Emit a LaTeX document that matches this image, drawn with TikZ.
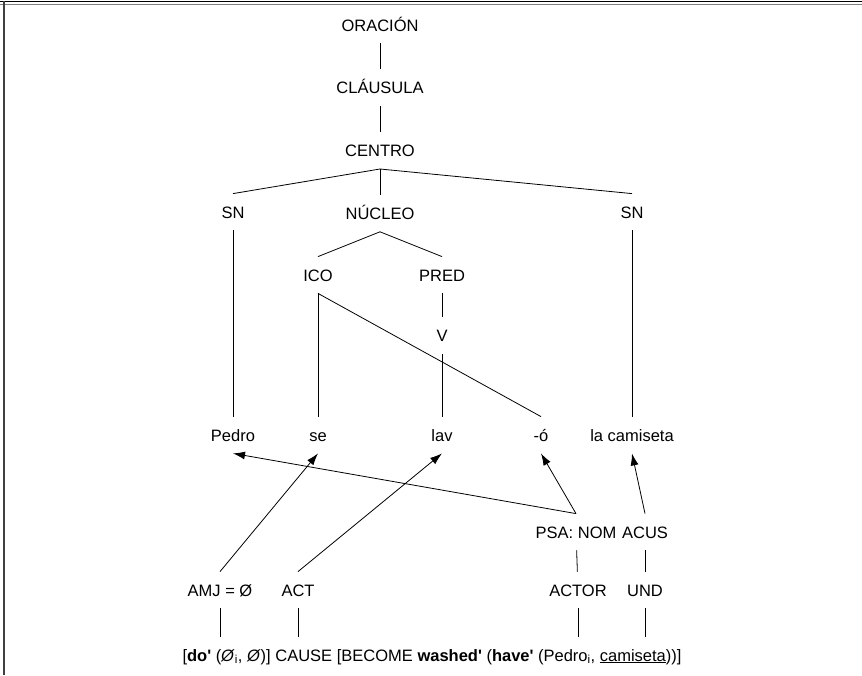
\documentclass[tikz,border=0pt]{standalone}
\usepackage{fontspec}
\setmainfont{Liberation Sans}
\usetikzlibrary{positioning,arrows.meta}

\newcommand{\pr}{\textquotesingle}

\begin{document}
\begin{tikzpicture}[x=1pt,y=-1pt,line width=0.8pt,
    every node/.style={inner xsep=2pt,inner ysep=12pt,text height=12pt,text depth=0pt,
      font=\fontsize{16.5}{18}\selectfont},
    link/.style={-{Latex[length=12pt,width=8pt]}},
    node distance=26pt
    ]
    \useasboundingbox (0,0) rectangle (862,675);

    % frame
    \draw[line width=1.2pt] (0,1.2) -- (862,1.2);
    \draw[gray,line width=0.8pt] (0,4) -- (862,4);
    \draw[line width=1.4pt,black!75] (4,1) -- (4,675);

    % the tree
    \node (or) at (380,25) {ORACIÓN};
    \node (cl) [below=of or] {CLÁUSULA};
    \node (ce) [below=of cl] {CENTRO};
    \node (nu) [below=of ce] {NÚCLEO};
    \node (sn1) at (233,212) {SN};
    \node (sn2) at (632,212) {SN};
    \node (ico) at (318,275) {ICO};
    \node (pred) at (442,275) {PRED};
    \node (v) [below=24pt of pred] {V};

    \node (pe) at (233,435) {Pedro};
    \node (se) at (318,435) {se};
    \node (lav) at (442,435) {lav};
    \node (o) at (541,435) {-ó};
    \node (cam) at (632,435) {la camiseta};

    \node (psa) at (576,532) {PSA: NOM};
    \node (acus) at (645,532) {ACUS};
    \node (amj) at (220,590) {AMJ = Ø};
    \node (act) at (298,590) {ACT};
    \node (actor) at (578,590) {ACTOR};
    \node (und) at (645,590) {UND};

    \node (lr) at (432,655) {[\textbf{do\pr} (\textit{Ø}\textsubscript{i}, \textit{Ø})] CAUSE
      [BECOME \textbf{washed\pr} (\textbf{have\pr} (Pedro\textsubscript{i}, \underline{camiseta}))]};

    % the edges
    \draw (or) -- (cl);
    \draw (cl) -- (ce);
    \draw (ce.south) -- (sn1.north);
    \draw (ce) -- (nu);
    \draw (ce.south) -- (sn2.north);
    \draw (nu.south) -- (ico.north);
    \draw (nu.south) -- (pred.north);
    \draw (pred) -- (v);
    \draw (sn1) -- (pe);
    \draw (sn2) -- (cam);
    \draw (ico.south) -- (se.north);
    \draw (ico.south) -- (o.north);
    \draw (v) -- (lav);

    % linking arrows
    \draw[link] (psa.north) -- (pe.south);
    \draw[link] (psa.north) -- (o.south);
    \draw[link] (acus.north) -- (cam.south);
    \draw[link] (amj.north) -- (se.south);
    \draw[link] (act.north) -- (lav.south);
    \draw (psa) -- (actor);
    \draw (acus) -- (und);
    \draw (amj.south) -- (amj.south |- lr.north);
    \draw (act.south) -- (act.south |- lr.north);
    \draw (actor.south) -- (actor.south |- lr.north);
    \draw (und.south) -- (und.south |- lr.north);
\end{tikzpicture}
\end{document}
